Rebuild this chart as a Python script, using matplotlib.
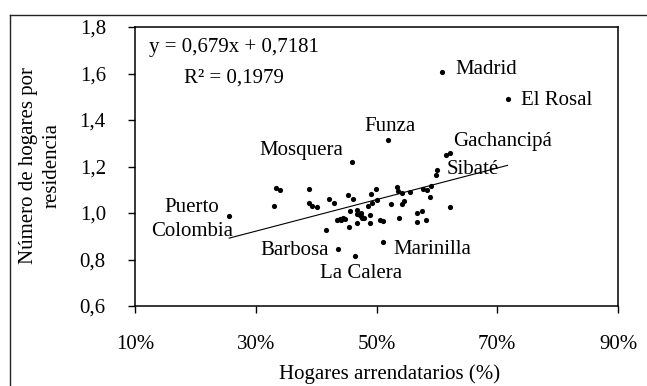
import numpy as np
import matplotlib
matplotlib.use("Agg")
import matplotlib.pyplot as plt
from matplotlib.lines import Line2D

plt.rcParams['font.family'] = ['Liberation Serif', 'DejaVu Serif']

# share of renting households (fraction) and households per dwelling
rent = [0.256, 0.334, 0.340, 0.331, 0.389, 0.389, 0.393, 0.401, 0.421, 0.430,
        0.416, 0.460, 0.452, 0.461, 0.456, 0.435, 0.440, 0.444, 0.447, 0.442,
        0.454, 0.437, 0.464, 0.510, 0.467, 0.468, 0.472, 0.474, 0.476, 0.479,
        0.475, 0.467, 0.489, 0.489, 0.491, 0.499, 0.492, 0.486, 0.501, 0.505,
        0.510, 0.519, 0.524, 0.534, 0.536, 0.543, 0.538, 0.545, 0.543, 0.556,
        0.567, 0.567, 0.576, 0.582, 0.577, 0.584, 0.591, 0.589, 0.622, 0.601,
        0.599, 0.615, 0.622, 0.608, 0.717]
hogares = [0.986, 1.109, 1.101, 1.031, 1.102, 1.045, 1.032, 1.025, 1.059, 1.041,
           0.927, 1.219, 1.077, 1.060, 1.009, 0.970, 0.974, 0.978, 0.973, 0.968,
           0.941, 0.844, 0.816, 0.875, 1.015, 0.997, 0.992, 0.985, 0.977, 0.980,
           1.002, 0.956, 0.992, 0.958, 1.080, 1.103, 1.044, 1.030, 1.058, 0.969,
           0.964, 1.314, 1.040, 1.113, 1.096, 1.088, 0.977, 1.052, 1.039, 1.089,
           1.002, 0.960, 1.007, 0.971, 1.102, 1.097, 1.118, 1.070, 1.025, 1.185,
           1.163, 1.251, 1.259, 1.608, 1.489]

# labelled municipalities: name, x, y, text offset (points), alignment
labels = [
    ("Madrid", 0.608, 1.608, (9.6, 1.2), "left"),
    ("El Rosal", 0.717, 1.489, (9.6, -0.5), "left"),
    ("Funza", 0.519, 1.314, (1.7, 10.0), "center"),
    ("Gachancipá", 0.622, 1.259, (2.4, 8.4), "left"),
    ("Sibaté", 0.601, 1.185, (6.3, 0.7), "left"),
    ("Mosquera", 0.460, 1.219, (-6.5, 8.6), "right"),
    ("Puerto\nColombia", 0.256, 0.986, (-27.0, -2.3), "center"),
    ("Barbosa", 0.437, 0.844, (-7.2, -0.6), "right"),
    ("La Calera", 0.464, 0.816, (4.3, -12.4), "center"),
    ("Marinilla", 0.510, 0.875, (7.7, -5.0), "left"),
]

slope, intercept, r2 = 0.679, 0.7181, 0.1979

xticks = [0.1, 0.3, 0.5, 0.7, 0.9]
xticklabels = ["10%", "30%", "50%", "70%", "90%"]
yticks = [0.6, 0.8, 1.0, 1.2, 1.4, 1.6, 1.8]
yticklabels = ["0,6", "0,8", "1,0", "1,2", "1,4", "1,6", "1,8"]

W, H = 647, 386
fig = plt.figure(figsize=(W / 100, H / 100), dpi=100)
ax = fig.add_axes([135 / W, 1 - 306 / H, 483 / W, 279 / H])

fs = 15
ax.scatter(rent, hogares, s=14, color="black", zorder=3, linewidths=0)

xl = np.array([min(rent), max(rent)])
ax.plot(xl, slope * xl + intercept, color="black", lw=0.8)

for name, x, y, off, ha in labels:
    ax.annotate(name, (x, y), xytext=off, textcoords="offset points",
                ha=ha, va="center", fontsize=fs, multialignment="center",
                linespacing=1.35)

ax.text(0.204, 0.925, "y = 0,679x + 0,7181", transform=ax.transAxes,
        ha="center", va="center", fontsize=fs)
ax.text(0.204, 0.817, "R² = 0,1979", transform=ax.transAxes,
        ha="center", va="center", fontsize=fs)

ax.set_xlim(0.1, 0.9)
ax.set_ylim(0.6, 1.8)
ax.set_xticks(xticks)
ax.set_xticklabels(xticklabels)
ax.set_yticks(yticks)
ax.set_yticklabels(yticklabels)
ax.tick_params(direction="out", length=5, width=1, labelsize=fs, pad=16)
for s in ax.spines.values():
    s.set_linewidth(1.1)

fig.text(390 / W, 1 - 374 / H, "Hogares arrendatarios (%)",
         ha="center", va="center", fontsize=fs)
fig.text(40 / W, 1 - 166 / H, "Número de hogares por\nresidencia",
         ha="center", va="center", rotation=90, fontsize=fs,
         multialignment="center", linespacing=1.3)

# outer chart frame (cropped on right and bottom)
fig.add_artist(Line2D([10 / W, 1], [1 - 14.5 / H] * 2, color="#222222", lw=1))
fig.add_artist(Line2D([10 / W] * 2, [0, 1 - 14.5 / H], color="#222222", lw=1))

fig.savefig("out.png", dpi=100)
